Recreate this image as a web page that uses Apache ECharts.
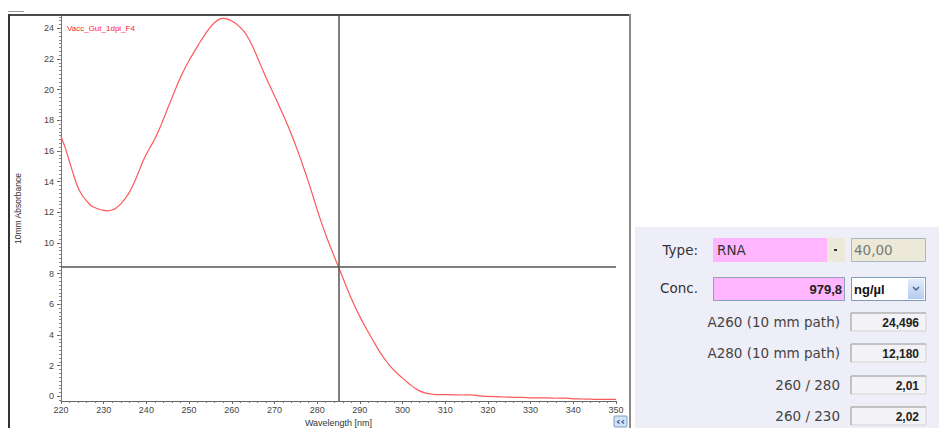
<!DOCTYPE html>
<html>
<head>
<meta charset="utf-8">
<script src="https://cdn.jsdelivr.net/npm/echarts@6/dist/echarts.min.js"></script>
<style>
html,body{margin:0;padding:0;background:#fff;}
#chart{width:939px;height:428px;}
</style>
</head>
<body>
<div id="chart"></div>
<script>
// spectrum (nm, 10mm absorbance)
var wavelength = [220,221,222,223,224,225,226,227,228,229,230,231,232,233,234,235,236,237,238,239,
  240,241,242,243,244,245,246,247,248,249,250,251,252,253,254,255,256,257,258,259,
  260,261,262,263,264,265,266,267,268,269,270,271,272,273,274,275,276,277,278,279,
  280,281,282,283,284,285,286,287,288,289,290,291,292,293,294,295,296,297,298,299,
  300,301,302,303,304,305,306,307,308,310,312,314,316,318,320,322,324,326,328,330,
  332,334,336,338,340,342,344,346,348,350];
var absorbance = [16.95,16.2,15.3,14.4,13.6,13.1,12.75,12.45,12.3,12.2,12.13,12.1,12.15,12.3,12.55,12.9,13.3,13.85,14.5,15.2,
  15.8,16.3,16.8,17.4,18.08,18.78,19.48,20.16,20.8,21.38,21.9,22.38,22.84,23.28,23.72,24.08,24.38,24.58,24.65,24.6,
  24.48,24.3,24.05,23.75,23.3,22.75,22.1,21.45,20.8,20.2,19.6,19.0,18.38,17.74,17.06,16.34,15.58,14.78,13.95,13.08,
  12.18,11.33,10.56,9.82,9.12,8.44,7.75,7.05,6.38,5.77,5.2,4.68,4.18,3.69,3.21,2.76,2.36,2.0,1.7,1.44,
  1.19,0.95,0.72,0.52,0.36,0.25,0.18,0.14,0.12,0.12,0.1,0.09,0.1,0.03,0.0,-0.02,-0.04,-0.06,-0.07,-0.09,
  -0.1,-0.1,-0.12,-0.11,-0.16,-0.17,-0.18,-0.2,-0.2,-0.2];
var yTicks = [0,2,4,6,8,10,12,14,16,18,20,22,24];
var cursorX = 285;
var cursorY = 8.44;
var sampleName = 'Vacc_Gut_1dpi_F4';

// result panel
var sampleType = 'RNA';
var factor = '40,00';
var concValue = '979,8';
var concUnit = 'ng/µl';
var resultLabels = ['A260 (10 mm path)', 'A280 (10 mm path)', '260 / 280', '260 / 230'];
var resultValues = ['24,496', '12,180', '2,01', '2,02'];

var yMin = -0.3, yMax = 24.8;
var minorY = [];
for (var v = -0.25; v < yMax; v += 0.25) minorY.push(+v.toFixed(2));

var points = wavelength.map(function (w, i) { return [w, absorbance[i]]; });

var chart = echarts.init(document.getElementById('chart'), null, { renderer: 'svg' });

var labelFont = '13.5px "DejaVu Sans"';
var valueFont = 'bold 12px "Liberation Sans"';
var g = [];
// frame of the plot window
g.push({ type: 'rect', shape: { x: 8, y: 11, width: 16, height: 1 }, style: { fill: '#9a9a9a' } });
g.push({ type: 'rect', shape: { x: 8, y: 14, width: 623, height: 2 }, style: { fill: '#4a4a4a' } });
g.push({ type: 'rect', shape: { x: 8, y: 14, width: 2, height: 414 }, style: { fill: '#333' } });
g.push({ type: 'rect', shape: { x: 629, y: 14, width: 2, height: 414 }, style: { fill: '#8a8a8a' } });
// << button
g.push({ type: 'rect', shape: { x: 614, y: 416, width: 13, height: 11, r: 1 }, style: { fill: '#d3e2f6', stroke: '#7d9cc6', lineWidth: 1 } });
g.push({ type: 'text', x: 620.5, y: 421.5, style: { text: '‹‹', fill: '#1d4f9a', font: 'bold 11px "DejaVu Sans"', align: 'center', verticalAlign: 'middle' } });

// result panel
g.push({ type: 'rect', shape: { x: 635, y: 227, width: 304, height: 201 }, style: { fill: '#eeeef8' } });
g.push({ type: 'text', x: 698, y: 250, style: { text: 'Type:', fill: '#333', font: labelFont, align: 'right', verticalAlign: 'middle' } });
g.push({ type: 'rect', shape: { x: 713, y: 238, width: 114, height: 24 }, style: { fill: '#ffb6ff' } });
g.push({ type: 'text', x: 717, y: 250, style: { text: sampleType, fill: '#333', font: labelFont, align: 'left', verticalAlign: 'middle' } });
g.push({ type: 'rect', shape: { x: 827, y: 238, width: 18, height: 24 }, style: { fill: '#ece9d8' } });
g.push({ type: 'rect', shape: { x: 834, y: 249, width: 3, height: 2 }, style: { fill: '#333' } });
g.push({ type: 'rect', shape: { x: 851.5, y: 238.5, width: 74, height: 23 }, style: { fill: '#ece9d8', stroke: '#a8b8c8', lineWidth: 1 } });
g.push({ type: 'text', x: 854, y: 250, style: { text: factor, fill: '#777', font: labelFont, align: 'left', verticalAlign: 'middle' } });

g.push({ type: 'text', x: 698, y: 288, style: { text: 'Conc.', fill: '#333', font: labelFont, align: 'right', verticalAlign: 'middle' } });
g.push({ type: 'rect', shape: { x: 713.5, y: 277.5, width: 131, height: 23 }, style: { fill: '#ffb6ff', stroke: '#8da2bb', lineWidth: 1 } });
g.push({ type: 'text', x: 842, y: 289, style: { text: concValue, fill: '#222', font: 'bold 13px "Liberation Sans"', align: 'right', verticalAlign: 'middle' } });
g.push({ type: 'rect', shape: { x: 851.5, y: 277.5, width: 74, height: 23 }, style: { fill: '#fff', stroke: '#7f9db9', lineWidth: 1 } });
g.push({ type: 'text', x: 854, y: 289, style: { text: concUnit, fill: '#111', font: 'bold 13px "Liberation Sans"', align: 'left', verticalAlign: 'middle' } });
g.push({ type: 'rect', shape: { x: 908, y: 279, width: 16, height: 20 },
  style: { fill: new echarts.graphic.LinearGradient(0, 0, 0, 1, [{ offset: 0, color: '#e3ecfb' }, { offset: 1, color: '#b4cbf1' }]) } });
g.push({ type: 'polyline', shape: { points: [[913, 287], [916, 290], [919, 287]] }, style: { stroke: '#4d6185', lineWidth: 1.5, fill: null } });

var rowY = [322, 353, 385, 416];
resultLabels.forEach(function (lab, i) {
  var y = rowY[i];
  g.push({ type: 'text', x: 840, y: y, style: { text: lab, fill: '#444', font: labelFont, align: 'right', verticalAlign: 'middle' } });
  g.push({ type: 'rect', shape: { x: 851, y: y - 9, width: 75, height: 18 }, style: { fill: '#f3f3f5', stroke: '#d2d2d2', lineWidth: 1 } });
  g.push({ type: 'polyline', shape: { points: [[851, y + 9], [851, y - 9], [926, y - 9]] }, style: { stroke: '#a3a3a3', lineWidth: 1, fill: null } });
  g.push({ type: 'text', x: 919, y: y + 0.5, style: { text: resultValues[i], fill: '#222', font: valueFont, align: 'right', verticalAlign: 'middle' } });
});

var option = {
  animation: false,
  backgroundColor: '#fff',
  textStyle: { fontFamily: 'Liberation Sans' },
  title: {
    text: sampleName, left: 62, top: 19,
    textStyle: { fontSize: 8, color: '#ff2424', fontWeight: 'normal', fontFamily: 'Liberation Sans' }
  },
  grid: { left: 61, right: 323, top: 16, bottom: 27, outerBoundsMode: 'none', containLabel: false },
  xAxis: {
    type: 'value', min: 220, max: 350, interval: 10,
    name: 'Wavelength [nm]', nameLocation: 'middle', nameGap: 17,
    nameTextStyle: { fontSize: 9, color: '#333' },
    axisLine: { onZero: false, lineStyle: { color: '#666', width: 1 } },
    axisTick: { length: 3, lineStyle: { color: '#666' } },
    minorTick: { show: true, splitNumber: 5, length: 2, lineStyle: { color: '#777' } },
    axisLabel: { fontSize: 9, color: '#444', margin: 4 },
    splitLine: { show: false }
  },
  yAxis: [{
    type: 'value', min: yMin, max: yMax,
    name: '10mm Absorbance', nameLocation: 'middle', nameGap: 39,
    nameTextStyle: { fontSize: 8.5, color: '#333' },
    axisLine: { show: true, lineStyle: { color: '#777', width: 1 } },
    axisTick: { show: true, length: 4, customValues: yTicks, lineStyle: { color: '#666' } },
    axisLabel: { fontSize: 9, color: '#444', margin: 7, customValues: yTicks },
    splitLine: { show: false }
  }, {
    type: 'value', min: yMin, max: yMax, position: 'left',
    axisLine: { show: false },
    axisTick: { show: true, length: 2, customValues: minorY, lineStyle: { color: '#888' } },
    axisLabel: { show: false },
    splitLine: { show: false }
  }],
  series: [{
    type: 'line',
    data: points,
    smooth: 0.4,
    showSymbol: false,
    lineStyle: { color: '#ff5858', width: 1.2 },
    markLine: {
      silent: true,
      symbol: ['none', 'none'],
      label: { show: false },
      lineStyle: { color: '#555', width: 1.5, type: 'solid' },
      data: [{ xAxis: cursorX }, { yAxis: cursorY }]
    }
  }],
  graphic: g
};
chart.setOption(option);
</script>
</body>
</html>
